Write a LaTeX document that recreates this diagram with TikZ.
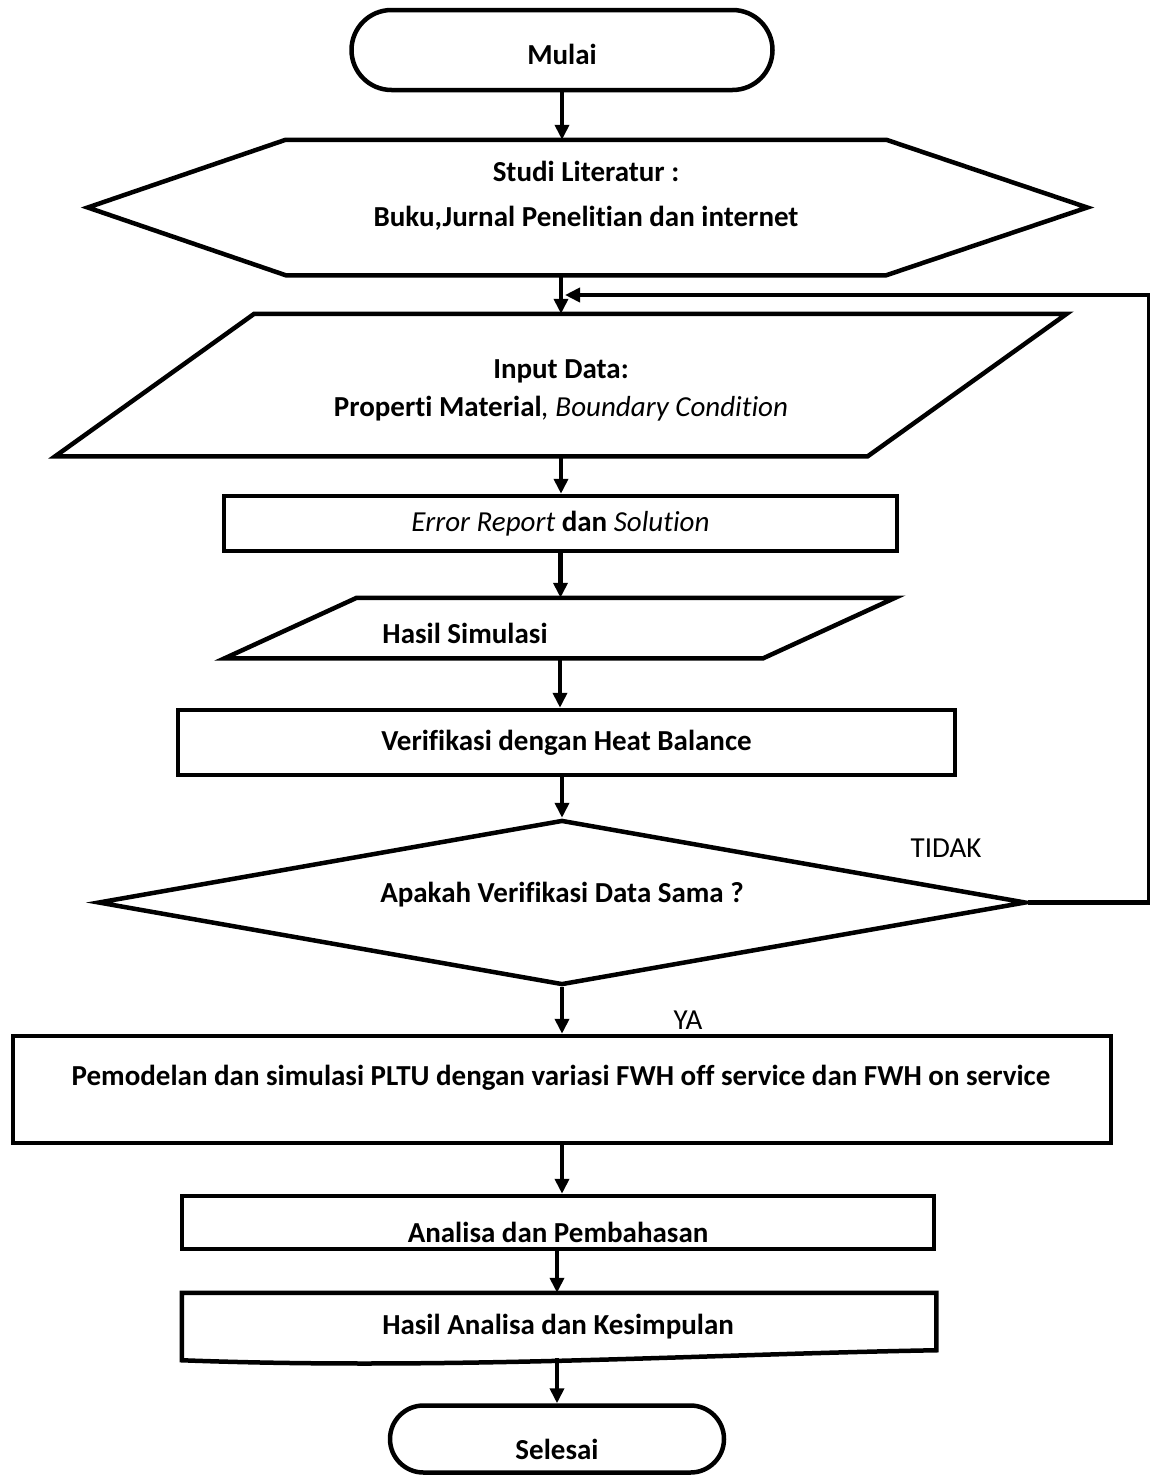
\documentclass[tikz,border=0pt]{standalone}
\usepackage{fontspec}
\setmainfont{Carlito}[Ligatures={NoCommon}]
\usetikzlibrary{shapes.geometric,shapes.misc,arrows.meta}

\begin{document}
\begin{tikzpicture}[x=1pt,y=-1pt,line width=4.5pt,
  every node/.style={font=\fontsize{29}{36}\selectfont\bfseries},
  startstop/.style={draw,rounded rectangle,inner sep=0pt},
  procbox/.style={draw,rectangle,inner sep=0pt},
  shapebox/.style={rectangle,inner sep=0pt},
  decide/.style={draw,diamond,inner sep=0pt},
  answer/.style={font=\fontsize{29}{32}\selectfont},
  flow/.style={-{Triangle[width=14pt,length=15pt]}}]
\useasboundingbox (0,0) rectangle (1150,1475);

\node[startstop,minimum width=421pt,minimum height=80pt] (mulai) at (562,50) {};
\node (mulai-txt) at (562,54) {Mulai};

\node[shapebox,minimum width=596pt,minimum height=131pt] (studi) at (586,207.5) {};
\draw (studi.north west) -- (studi.north east) -- ([xshift=201pt]studi.east)
  -- (studi.south east) -- (studi.south west) -- ([xshift=-198pt]studi.west) -- cycle;
\node[align=center,font=\fontsize{29}{45}\selectfont\bfseries] (studi-txt) at (586,196)
  {Studi Literatur :\\Buku,Jurnal Penelitian dan internet};

\node[shapebox,minimum width=808pt,minimum height=138pt] (input) at (561,385) {};
\draw ([xshift=99.5pt]input.north west) -- ([xshift=99.5pt]input.north east)
  -- ([xshift=-99.5pt]input.south east) -- ([xshift=-99.5pt]input.south west) -- cycle;
\node[align=center,font=\fontsize{29}{38}\selectfont\bfseries] (input-txt) at (561,390)
  {Input Data:\\Properti Material{\mdseries\itshape, Boundary Condition}};

\node[procbox,minimum width=673pt,minimum height=55pt] (err) at (560.5,523.5)
  {\mdseries\textit{Error Report} \textbf{dan} \textit{Solution}};

\node[shapebox,minimum width=534pt,minimum height=56pt] (hasil) at (560,628) {};
\draw ([xshift=66pt]hasil.north west) -- ([xshift=66pt]hasil.north east)
  -- ([xshift=-66pt]hasil.south east) -- ([xshift=-66pt]hasil.south west) -- cycle;
\node (hasil-txt) at (465,633) {Hasil Simulasi};

\node[procbox,minimum width=777pt,minimum height=65pt] (verif) at (566.5,742.5) {Verifikasi dengan Heat Balance};

\node[decide,minimum width=928pt,minimum height=165pt] (cek) at (562,902.5) {};
\node (cek-txt) at (562,895) {Apakah Verifikasi Data Sama ?};

\node[procbox,minimum width=1098pt,minimum height=107pt] (model) at (562,1089.5) {};
\node (model-txt) at (561,1078) {Pemodelan dan simulasi PLTU dengan variasi FWH off service dan FWH on service};

\node[procbox,minimum width=752pt,minimum height=53pt] (analisa) at (558,1222.5) {};
\node (analisa-txt) at (558,1232) {Analisa dan Pembahasan};

\node[shapebox,minimum width=750pt,minimum height=57pt] (doc) at (559,1323.5) {};
\draw ([yshift=4pt]doc.south east) -- (doc.north east) -- (doc.north west) -- ([yshift=-6pt]doc.south west)
  .. controls ([xshift=266pt,yshift=-16pt]doc.south west) and ([xshift=-234pt]doc.south east) .. cycle;
\node (doc-txt) at (558,1327) {Hasil Analisa dan Kesimpulan};

\node[startstop,minimum width=334pt,minimum height=67pt] (selesai) at (557,1439) {};
\node (selesai-txt) at (557,1449) {Selesai};

\node[answer] (tidak) at (946,848) {TIDAK};
\node[answer] (ya) at (688,1020) {YA};
\coordinate (merge) at (565,295);

\draw[flow] (mulai.south) -- (mulai.south |- studi.north);
\draw[flow] (input.north |- studi.south) -- (input.north);
\draw[flow] (input.south) -- (input.south |- err.north);
\draw[flow] (err.south) -- (err.south |- hasil.north);
\draw[flow] (hasil.south) -- (hasil.south |- verif.north);
\draw[flow] (cek.north |- verif.south) -- (cek.north);
\draw[flow] (cek.south) -- (model.north);
\draw[flow] (model.south) -- (model.south |- analisa.north);
\draw[flow] (selesai.north |- analisa.south) -- (selesai.north |- doc.north);
\draw[flow] (selesai.north |- 0,1358) -- (selesai.north);
\draw[flow] (cek.east) -- ++(121,0) |- (merge);
\end{tikzpicture}
\end{document}
